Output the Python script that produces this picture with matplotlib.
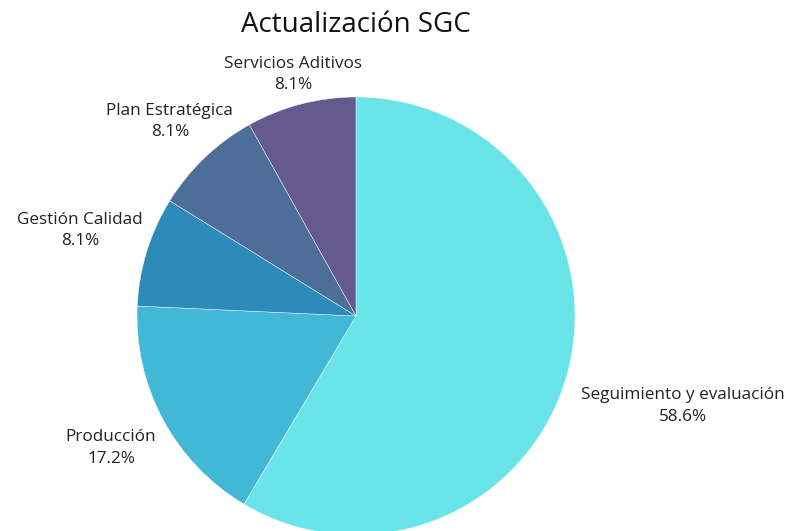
import matplotlib
matplotlib.use("Agg")
import matplotlib.pyplot as plt
import numpy as np

categories = ["Seguimiento y evaluación", "Producción", "Gestión Calidad", "Plan Estratégica", "Servicios Aditivos"]
values = [58.6, 17.2, 8.1, 8.1, 8.1]
colors = ["#69E4E9", "#43B7D6", "#2D8BBA", "#4C6E99", "#645A8F"]
label_dist = [1.55, 1.27, 1.32, 1.23, 1.14]

plt.rcParams['font.family'] = ['Open Sans', 'DejaVu Sans']

W, H = 794, 531
cx, cy, R = 356, 316, 219
fig = plt.figure(figsize=(W / 100, H / 100), dpi=100)
ax = fig.add_axes([0, 0, 1, 1])
wedges, _ = ax.pie(values, colors=colors, startangle=90, counterclock=False,
                   wedgeprops=dict(edgecolor="white", linewidth=0.3))
ax.set_aspect('auto')
ax.set_xlim(-cx / R, (W - cx) / R)
ax.set_ylim(-(H - cy) / R, cy / R)
ax.axis('off')

for w, cat, v, d in zip(wedges, categories, values, label_dist):
    ang = np.deg2rad((w.theta1 + w.theta2) / 2)
    ax.text(d * np.cos(ang), d * np.sin(ang), f"{cat}\n{v:.1f}%",
            ha='center', va='center', fontsize=12.3, color="#222222", linespacing=1.45)

fig.text(cx / W, 1 - 25 / H, "Actualización SGC", ha='center', va='center',
         fontsize=20, color="#111111")
fig.savefig("out.png", dpi=100)
